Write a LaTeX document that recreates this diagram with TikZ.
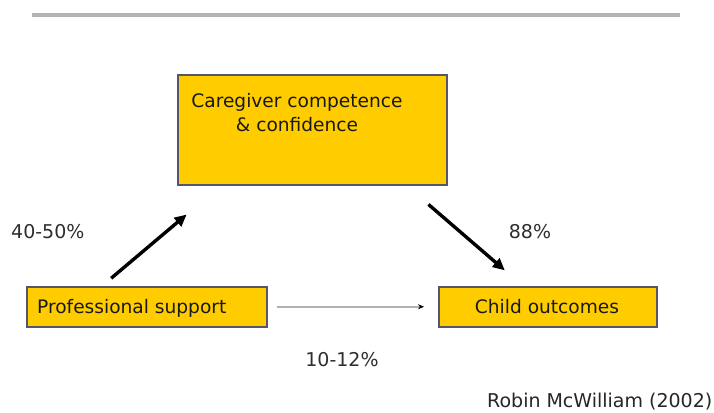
\documentclass[tikz,border=0pt]{standalone}
\usepackage{fontspec}
\setmainfont{DejaVu Sans}
\usetikzlibrary{arrows.meta,calc}
\definecolor{boxyellow}{HTML}{FFCC00}
\definecolor{boxedge}{HTML}{55566A}
\definecolor{rulegrey}{HTML}{B3B3B3}
\definecolor{labelgrey}{HTML}{2E2E2E}
\begin{document}
\begin{tikzpicture}[x=1pt,y=-1pt,
  yellowbox/.style={draw=boxedge,fill=boxyellow,line width=1.5pt,inner sep=0pt,anchor=north west},
  boxtext/.style={font=\fontsize{18.6}{24}\selectfont,text=black!90,inner sep=0pt},
  pctlabel/.style={font=\fontsize{19}{23}\selectfont,text=labelgrey,inner sep=0pt,anchor=base},
  mainarrow/.style={line width=3.4pt,-{Triangle[length=12pt,width=11pt]}},
  thinarrow/.style={draw=gray!60,line width=2pt,-{Stealth[length=6pt,width=5pt,color=black]}}]
  \useasboundingbox (0,0) rectangle (714,412);
  \fill[white] (0,0) rectangle (714,412);

  % rule across the top
  \draw[rulegrey,line width=3.3pt] (32,15) coordinate (ruleL) -- (680,15) coordinate (ruleR);

  % the three boxes
  \node[yellowbox,minimum width=269pt,minimum height=110pt] (care) at (177,74) {};
  \node[yellowbox,minimum width=240pt,minimum height=40pt] (prof) at (26,286) {};
  \node[yellowbox,minimum width=218pt,minimum height=40pt] (child) at (438,286) {};

  % box texts
  \node[boxtext,align=center,anchor=north] (caretext) at (297,93) {Caregiver competence\\\& confidence};
  \node[boxtext,anchor=base west] (proftext) at (37,313.6) {Professional support};
  \node[boxtext,anchor=base] (childtext) at (547,313) {Child outcomes};

  % connectors
  \draw[mainarrow,shorten <=12pt,shorten >=45pt]
    ($(prof.north west)+(76,0)$) -- ($(care.south west)+(44,0)$);
  \draw[mainarrow,shorten <=29pt,shorten >=24pt]
    ($(care.south west)+(229.5,0)$) -- ($(child.north west)+(85,0)$);
  \draw[thinarrow,shorten <=9pt,shorten >=14pt] (prof.east) -- (child.west);

  % percentages
  \node[pctlabel,anchor=base west] (pa) at (11,238) {40-50\%};
  \node[pctlabel] (pb) at (530,238) {88\%};
  \node[pctlabel] (pc) at (342,366) {10-12\%};

  % source
  \node[pctlabel,anchor=base west,text=black!85] (src) at (487,407) {Robin McWilliam (2002)};
\end{tikzpicture}
\end{document}
